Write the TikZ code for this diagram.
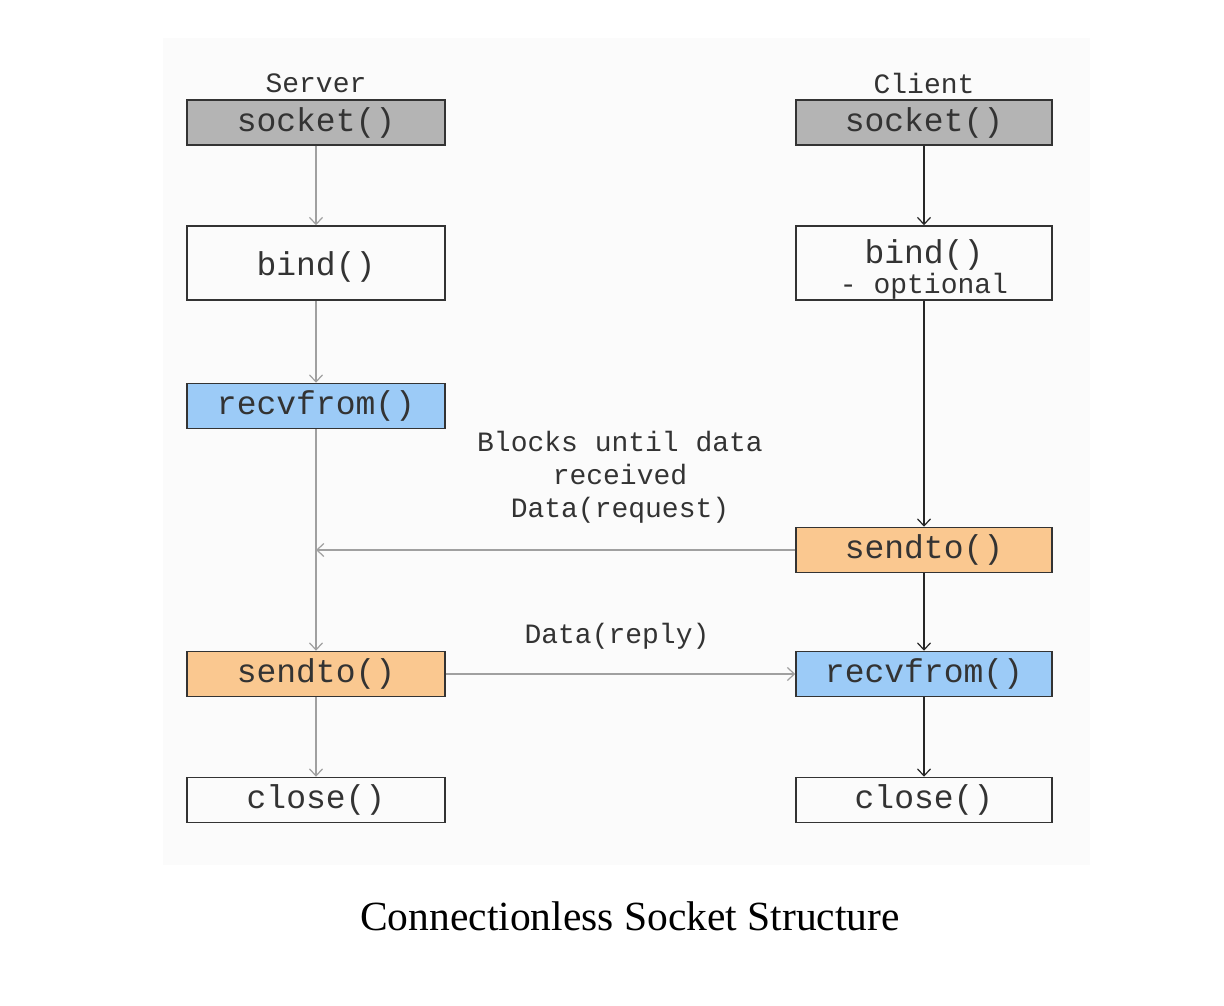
\documentclass[tikz,border=0pt]{standalone}
\usepackage{fontspec}
\setmainfont{Liberation Serif}
\setmonofont{Liberation Mono}
\usetikzlibrary{arrows.meta}
\definecolor{sockgray}{HTML}{B4B4B4}
\definecolor{recvblue}{HTML}{9CCBF7}
\definecolor{sendorange}{HTML}{FAC890}
\definecolor{txtgray}{HTML}{333333}
\definecolor{linegray}{HTML}{A0A0A0}
\definecolor{bgfaint}{HTML}{FBFBFB}
\tikzset{
  fnbox/.style={draw=txtgray, line width=1.5pt, minimum width=258pt, minimum height=45pt,
    inner sep=0pt, font=\fontsize{33}{34}\selectfont\ttfamily, text=txtgray, align=center},
  tallbox/.style={fnbox, minimum height=74pt},
  lbl/.style={font=\fontsize{28}{33}\selectfont\ttfamily, text=txtgray, align=center, inner sep=0pt},
  tip/.style={-{Straight Barb[length=7pt,width=13pt,line width=1.2pt]}},
  srvline/.style={tip, draw=linegray, line width=2pt},
  clline/.style={tip, draw=black!85, line width=1.5pt},
}
\begin{document}
\begin{tikzpicture}[x=1pt,y=-1pt]
\useasboundingbox (0,0) rectangle (1224,1006);
\fill[white] (0,0) rectangle (1224,1006);
\fill[bgfaint] (163,38) rectangle (1090,865);
% server column
\node[lbl] (srvlbl) at (316,83) {Server};
\node[fnbox, fill=sockgray] (ssock) at (316,122.5) {socket()};
\node[tallbox] (sbind) at (316,263) {\raisebox{-12pt}[0pt][0pt]{bind()}};
\node[fnbox, fill=recvblue] (srecv) at (316,406) {recvfrom()};
\node[fnbox, fill=sendorange] (ssend) at (316,674) {sendto()};
\node[fnbox] (sclose) at (316,800) {close()};
% client column
\node[lbl] (cllbl) at (924,83) {Client};
\node[fnbox, fill=sockgray, minimum width=256pt] (csock) at (924,122.5) {socket()};
\node[tallbox, minimum width=256pt] (cbind) at (924,263) {\raisebox{-15pt}[0pt][0pt]{\begin{tabular}{@{}c@{}}bind()\\[-4pt]{\fontsize{28}{30}\selectfont - optional}\end{tabular}}};
\node[fnbox, fill=sendorange, minimum width=256pt] (csend) at (924,550) {sendto()};
\node[fnbox, fill=recvblue, minimum width=256pt] (crecv) at (924,674) {recvfrom()};
\node[fnbox, minimum width=256pt] (cclose) at (924,800) {close()};
% labels
\node[lbl] (blk) at (620,477) {Blocks until data\\received\\Data(request)};
\node[lbl] (rep) at (617,636) {Data(reply)};
\coordinate (reqend) at (srecv.south |- csend.west);
% server arrows
\draw[srvline] (ssock) -- (sbind);
\draw[srvline] (sbind) -- (srecv);
\draw[srvline] (srecv) -- (ssend);
\draw[srvline] (ssend) -- (sclose);
% client arrows
\draw[clline] (csock) -- (cbind.north);
\draw[clline] (cbind.south) -- (csend);
\draw[clline] (csend) -- (crecv);
\draw[clline] (crecv) -- (cclose);
% data arrows
\draw[srvline] (csend.west) -- (reqend);
\draw[srvline] (ssend.east) -- (crecv.west);
% caption
\node[font=\fontsize{41.5}{43}\selectfont, inner sep=0pt] (cap) at (630,916) {Connectionless Socket Structure};
\end{tikzpicture}
\end{document}
